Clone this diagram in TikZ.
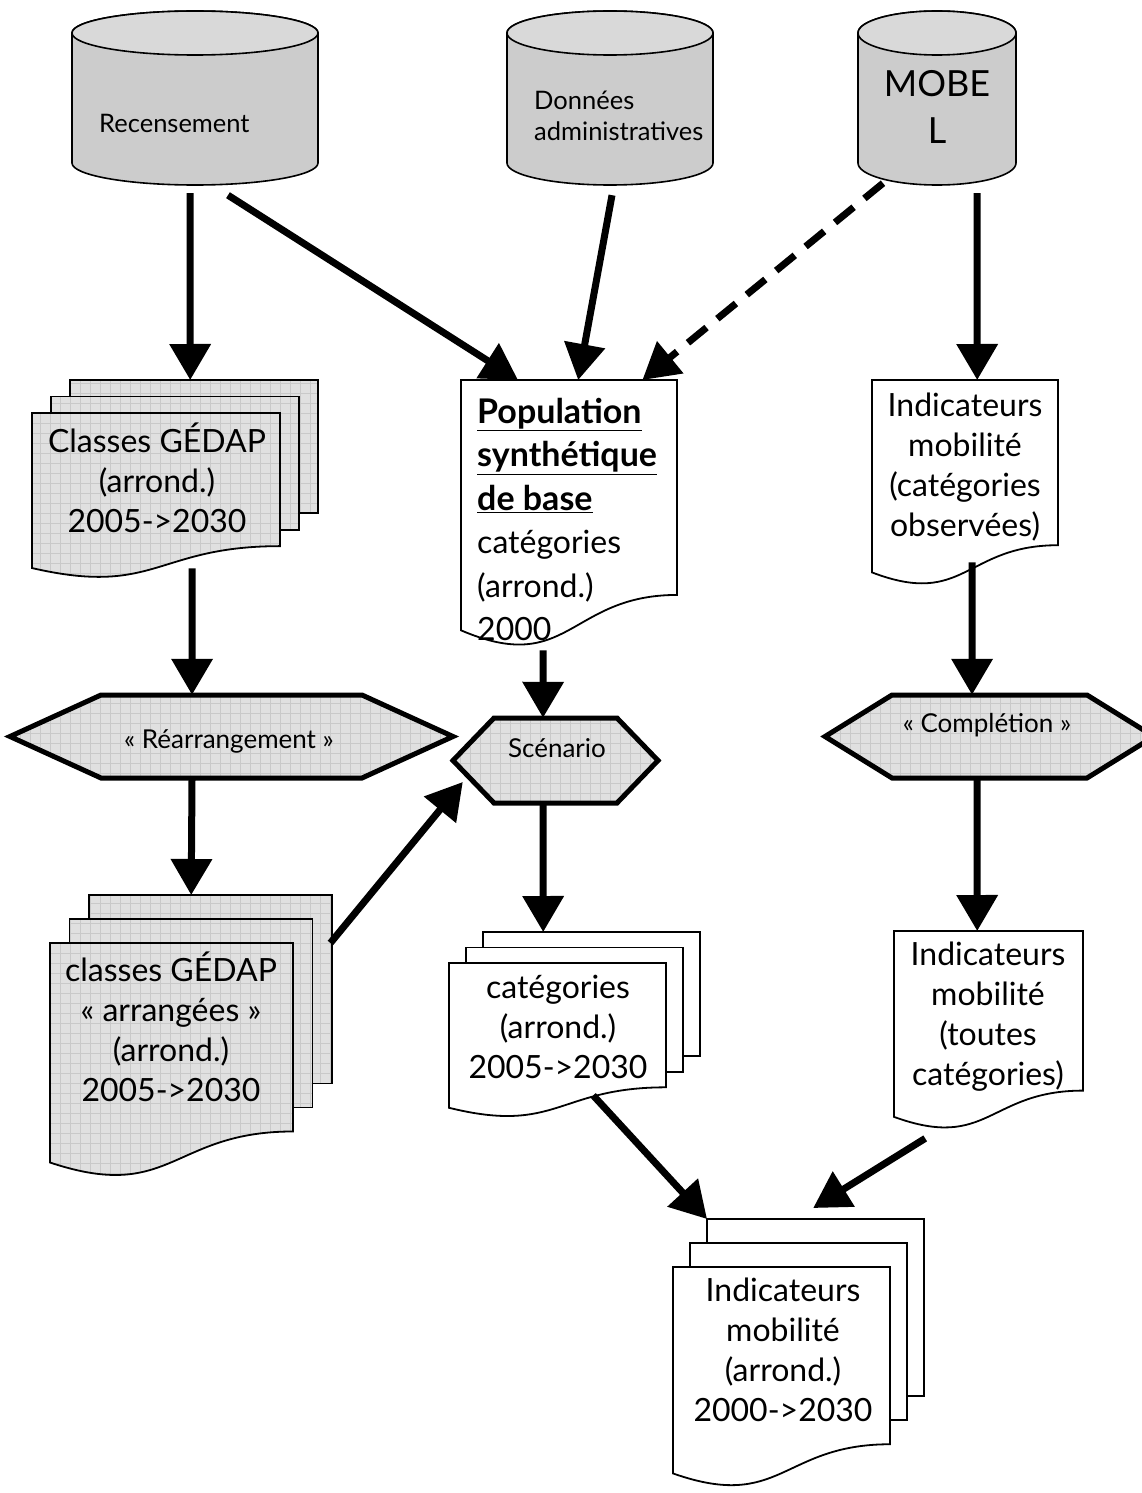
\documentclass[tikz,border=0pt]{standalone}
\usepackage{fontspec}
\setmainfont{Lato}
\usetikzlibrary{arrows.meta,calc,patterns.meta}

\tikzdeclarepattern{
  name=gedapgrid,
  type=uncolored,
  bottom left={(-1pt,-1pt)},
  top right={(11pt,11pt)},
  tile size={(10pt,10pt)},
  code={
    \draw[line width=0.8pt] (0pt,0pt) -- (10pt,0pt) (0pt,0pt) -- (0pt,10pt);
  }
}

% database cylinder: name, left x, right x
\newcommand{\database}[3]{%
  \path[dbbody] (#2,33) -- (#2,163)
    arc[start angle=180, end angle=0, x radius={(#3-#2)/2}, y radius=22]
    -- (#3,33)
    arc[start angle=0, end angle=-180, x radius={(#3-#2)/2}, y radius=22]
    -- cycle;
  \path[dbtop] ({(#2+#3)/2},33) ellipse[x radius={(#3-#2)/2}, y radius=22];
  \node[inner sep=0, minimum width={(#3-#2)*1pt}, minimum height=174pt]
    (#1) at ({(#2+#3)/2},98) {};
}

% page with wavy bottom: x, y, w, H, style
\newcommand{\docpage}[5]{%
  \path[#5] (#1,#2) -- ++(#3,0) -- ++(0,{0.802*#4})
    .. controls +({-0.5*#3},0) and +({0.5*#3},{0.173*#4}) .. (#1,{#2+0.934*#4})
    -- cycle;
}

% stack of three pages: name, x, y, w, H, dx, dy, style
\newcommand{\docstack}[8]{%
  \path[#8] ({#2+2*#6},{#3-2*#7}) rectangle ({#2+2*#6+#4},{#3+0.802*#5-2*#7});
  \path[#8] ({#2+#6},{#3-#7}) rectangle ({#2+#6+#4},{#3+0.802*#5-#7});
  \docpage{#2}{#3}{#4}{#5}{#8}
  \node[inner sep=0, anchor=north west, minimum width={(#4+2*#6)*1pt},
    minimum height={(#5+2*#7)*1pt}] (#1) at (#2,{#3-2*#7}) {};
}

% single page: name, x, y, w, H, style
\newcommand{\docone}[6]{%
  \docpage{#2}{#3}{#4}{#5}{#6}
  \node[inner sep=0, anchor=north west, minimum width={#4*1pt},
    minimum height={#5*1pt}] (#1) at (#2,#3) {};
}

% process hexagon: name, cx, cy, w, h, tip
\newcommand{\hexbox}[6]{%
  \path[hexa] ({#2-#4/2},#3) -- ({#2-#4/2+#6},{#3-#5/2}) -- ({#2+#4/2-#6},{#3-#5/2})
    -- ({#2+#4/2},#3) -- ({#2+#4/2-#6},{#3+#5/2}) -- ({#2-#4/2+#6},{#3+#5/2}) -- cycle;
  \node[inner sep=0, minimum width={#4*1pt}, minimum height={#5*1pt}] (#1) at (#2,#3) {};
}

\newcommand{\headline}[1]{{\fontsize{34}{42}\bfseries\underline{#1}}}

\begin{document}
\begin{tikzpicture}[x=1pt, y=-1pt,
  flow/.style={line width=7pt, -{Triangle[length=36pt,width=40pt]}},
  dflow/.style={flow, dash pattern=on 24pt off 14pt},
  dbbody/.style={draw, line width=1.6pt, fill=black!20},
  dbtop/.style={draw, line width=1.6pt, fill=black!15},
  page/.style={draw, line width=1.8pt, fill=white},
  gpage/.style={draw, line width=1.8pt, preaction={fill=black!12},
    pattern=gedapgrid, pattern color=black!21},
  hexa/.style={draw, line width=5pt, line join=miter, preaction={fill=black!12},
    pattern=gedapgrid, pattern color=black!21},
  txt/.style={inner sep=0, align=center, font=\fontsize{32}{40}\selectfont},
  smalltxt/.style={inner sep=0, align=left, font=\fontsize{25.5}{31}\selectfont},
  hextxt/.style={inner sep=0, font=\fontsize{26}{30}\selectfont},
  bigtxt/.style={inner sep=0, align=center, font=\fontsize{36}{47}\selectfont}]

  \useasboundingbox (0,0) rectangle (1142,1493);

  % sources
  \database{rec}{72}{318}
  \database{don}{507}{713}
  \database{mob}{858}{1016}
  \node[smalltxt, anchor=west] (rec-t) at (99,123) {Recensement};
  \node[smalltxt, anchor=west] (don-t) at (534,116) {Données\\administratives};
  \node[bigtxt] (mob-t) at (937,107) {MOBE\\L};

  % documents
  \docstack{cls}{32}{413}{248}{166}{19}{16.5}{gpage}
  \docone{pop}{461}{380}{216}{268}{page}
  \docone{obs}{872}{380}{186}{206}{page}
  \docstack{arr}{50}{943}{243}{235}{19.5}{24}{gpage}
  \docstack{cat}{449}{963}{217}{155}{17}{15.5}{page}
  \docone{tou}{894}{931}{189}{199}{page}
  \docstack{fin}{673}{1267}{217}{221}{17}{24}{page}

  \node[txt] (cls-t) at (157,478) {Classes GÉDAP\\(arrond.)\\2005->2030};
  \node[txt, align=left, anchor=north west, font=\fontsize{32}{43.5}\selectfont] (pop-t) at (477,398)
    {\headline{Population}\\\headline{synthétique}\\\headline{de base}\\catégories\\(arrond.)\\2000};
  \node[txt] (obs-t) at (965,467) {Indicateurs\\mobilité\\(catégories\\observées)};
  \node[txt] (arr-t) at (171,1027) {classes GÉDAP\\« arrangées »\\(arrond.)\\2005->2030};
  \node[txt] (cat-t) at (558,1027) {catégories\\(arrond.)\\2005->2030};
  \node[txt] (tou-t) at (988,1017) {Indicateurs\\mobilité\\(toutes\\catégories)};
  \node[txt] (fin-t) at (783,1350) {Indicateurs\\mobilité\\(arrond.)\\2000->2030};

  % processes
  \hexbox{rea}{231.5}{736.5}{443}{83}{91}
  \hexbox{sce}{555.5}{760.5}{205}{85}{41}
  \hexbox{com}{989.5}{736.5}{329}{83}{67}
  \node[hextxt] (rea-t) at (229,741) {« Réarrangement »};
  \node[hextxt] (sce-t) at (557,748) {Scénario};
  \node[hextxt] (com-t) at (987,725) {« Complétion »};

  % flows
  \draw[flow] ($(rec.south)+(-5,8)$) -- ($(cls.north)+(15,0)$);
  \draw[flow] ($(rec.south)+(33,10)$) -- ($(pop.north west)+(57,0)$);
  \draw[flow] ($(don.south)+(2,10)$) -- ($(pop.north)+(9,0)$);
  \draw[dflow] ($(mob.south)+(-54,-2)$) -- ($(pop.north east)+(-35,0)$);
  \draw[flow] ($(mob.south)+(40,8)$) -- ($(obs.north)+(12,0)$);
  \draw[flow] ($(cls.south)+(17,-11)$) -- ($(rea.north)+(-39.5,0)$);
  \draw[flow] ($(pop.south)+(-26,2)$) -- ($(sce.north)+(-12.5,0)$);
  \draw[flow] ($(obs.south)+(7,-24)$) -- ($(com.north)+(-17.5,0)$);
  \draw[flow] ($(rea.south)+(-39.5,2)$) -- (arr.north);
  \draw[flow] ($(arr.north east)+(-2,48)$) -- ($(sce.west)+(10,21.5)$);
  \draw[flow] ($(sce.south)+(-12.5,2)$) -- ($(cat.north)+(-31.5,0)$);
  \draw[flow] ($(com.south)+(-12.5,2)$) -- ($(tou.north)+(-11.5,0)$);
  \draw[flow] ($(cat.south)+(18.5,-23)$) -- ($(fin.north west)+(34,0)$);
  \draw[flow] ($(tou.south)+(-63.5,8)$) -- ($(fin.north)+(14.5,-11)$);
\end{tikzpicture}
\end{document}
